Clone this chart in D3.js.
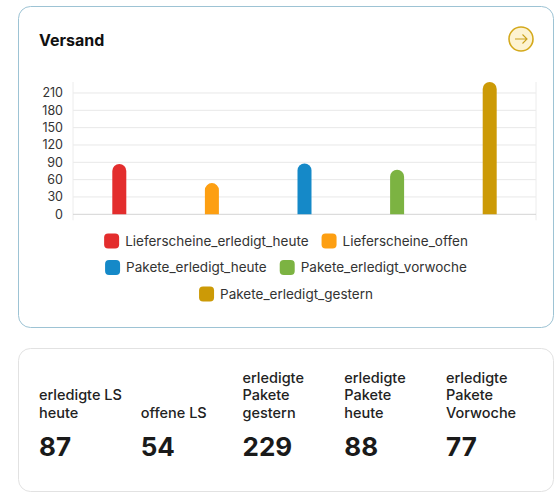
<!DOCTYPE html>
<html>
<head>
<meta charset="utf-8">
<script src="https://d3js.org/d3.v7.min.js"></script>
<style>
  body { margin: 0; background: #fff; font-family: Inter, "Noto Sans", sans-serif; }
  svg { display: block; }
</style>
</head>
<body>
<svg width="559" height="500"></svg>
<script>
// chart data
var categories = ["Lieferscheine_erledigt_heute", "Lieferscheine_offen", "Pakete_erledigt_heute", "Pakete_erledigt_vorwoche", "Pakete_erledigt_gestern"];
var values = [87, 54, 88, 77, 229];
var colors = ["#e32d2d", "#fd9f12", "#1589c8", "#7cb342", "#cc9a06"];
var yTicks = [0, 30, 60, 90, 120, 150, 180, 210];

// kpi card data
var kpiLabels = ["erledigte LS heute", "offene LS", "erledigte Pakete gestern", "erledigte Pakete heute", "erledigte Pakete Vorwoche"];
var kpiValues = [87, 54, 229, 88, 77];

var svg = d3.select("svg");
var font = "Inter, 'Noto Sans', sans-serif";

// top card
svg.append("rect")
  .attr("x", 18.5).attr("y", 6.5)
  .attr("width", 535).attr("height", 321)
  .attr("rx", 12)
  .attr("fill", "#fff")
  .attr("stroke", "#9dc3d4");

svg.append("text")
  .attr("x", 39).attr("y", 46)
  .attr("font-family", font)
  .attr("font-size", "16px")
  .attr("font-weight", 700)
  .attr("fill", "#111")
  .text("Versand");

// arrow button
var btn = svg.append("g").attr("transform", "translate(521,39)");
btn.append("circle").attr("r", 12).attr("fill", "#fdf3d2").attr("stroke", "#d4a91c").attr("stroke-width", 1.6);
btn.append("path").attr("d", "M-6,0H6M1.5,-4.5L6,0L1.5,4.5")
  .attr("fill", "none").attr("stroke", "#c9a01a").attr("stroke-width", 1.1);

// plot area
var plotLeft = 73, plotRight = 536, plotTop = 82, plotBottom = 214.3;
var x = d3.scaleBand().domain(categories).range([plotLeft, plotRight]);
var y = d3.scaleLinear().domain([0, 229]).range([plotBottom, plotTop]);

var g = svg.append("g");

g.selectAll(".grid")
  .data(yTicks.slice(1))
  .enter().append("line")
  .attr("x1", plotLeft).attr("x2", plotRight)
  .attr("y1", function(d) { return y(d); })
  .attr("y2", function(d) { return y(d); })
  .attr("stroke", "#e8e8e8");

[plotLeft, plotRight].forEach(function(xx) {
  g.append("line")
    .attr("x1", xx).attr("x2", xx)
    .attr("y1", plotTop).attr("y2", plotBottom + 6)
    .attr("stroke", "#ececec");
});

var yAxis = g.append("g")
  .attr("transform", "translate(" + (plotLeft - 4) + ",0)")
  .call(d3.axisLeft(y).tickValues(yTicks).tickSize(0).tickPadding(6));
yAxis.select(".domain").remove();
yAxis.selectAll("text")
  .attr("font-family", font)
  .attr("font-size", "12.5px")
  .attr("fill", "#333");

g.append("line")
  .attr("x1", plotLeft).attr("x2", plotRight)
  .attr("y1", y(0)).attr("y2", y(0))
  .attr("stroke", "#d4d4d4");

var barW = 14;
g.selectAll(".bar")
  .data(values)
  .enter().append("path")
  .attr("fill", function(d, i) { return colors[i]; })
  .attr("d", function(d, i) {
    var cx = x(categories[i]) + x.bandwidth() / 2;
    var x0 = cx - barW / 2, r = barW / 2;
    var y0 = y(d), y1 = y(0);
    return "M" + x0 + "," + y1 + "V" + (y0 + r) +
      "A" + r + "," + r + " 0 0 1 " + (x0 + barW) + "," + (y0 + r) +
      "V" + y1 + "Z";
  });

// legend rows
var legendRows = [[0, 1], [2, 3], [4]];
var rowY = [241, 267.5, 294];
var cardCenter = 286;
legendRows.forEach(function(row, ri) {
  var lg = svg.append("g");
  var cursor = 0;
  row.forEach(function(ci, k) {
    var item = lg.append("g").attr("transform", "translate(" + cursor + ",0)");
    item.append("rect")
      .attr("x", 0).attr("y", rowY[ri] - 7.5)
      .attr("width", 15).attr("height", 15)
      .attr("rx", 4)
      .attr("fill", colors[ci]);
    var t = item.append("text")
      .attr("x", 21).attr("y", rowY[ri] + 4.5)
      .attr("font-family", font)
      .attr("font-size", "13.5px")
      .attr("fill", "#333")
      .text(categories[ci]);
    cursor += 21 + t.node().getComputedTextLength() + 13;
  });
  var w = cursor - 13;
  lg.attr("transform", "translate(" + (cardCenter - w / 2) + ",0)");
});

// bottom card
svg.append("rect")
  .attr("x", 18.5).attr("y", 348.5)
  .attr("width", 535).attr("height", 143)
  .attr("rx", 12)
  .attr("fill", "#fff")
  .attr("stroke", "#e2e2e2");

var colX = d3.scalePoint().domain(d3.range(kpiLabels.length)).range([39, 446]);

kpiLabels.forEach(function(label, i) {
  var words = label.split(" ");
  var lines = [];
  var cur = "";
  var tmp = svg.append("text").attr("font-family", font).attr("font-size", "14.5px").attr("font-weight", 500);
  words.forEach(function(w) {
    var test = cur ? cur + " " + w : w;
    tmp.text(test);
    if (cur && tmp.node().getComputedTextLength() > 86) {
      lines.push(cur);
      cur = w;
    } else {
      cur = test;
    }
  });
  lines.push(cur);
  tmp.remove();

  var t = svg.append("text")
    .attr("font-family", font)
    .attr("font-size", "14.5px")
    .attr("font-weight", 500)
    .attr("fill", "#222");
  lines.forEach(function(line, li) {
    t.append("tspan")
      .attr("x", colX(i))
      .attr("y", 418 - (lines.length - 1 - li) * 17.7)
      .text(line);
  });

  svg.append("text")
    .attr("x", colX(i)).attr("y", 455.5)
    .attr("font-family", font)
    .attr("font-size", "26px")
    .attr("font-weight", 700)
    .attr("fill", "#1a1a1a")
    .text(kpiValues[i]);
});
</script>
</body>
</html>
